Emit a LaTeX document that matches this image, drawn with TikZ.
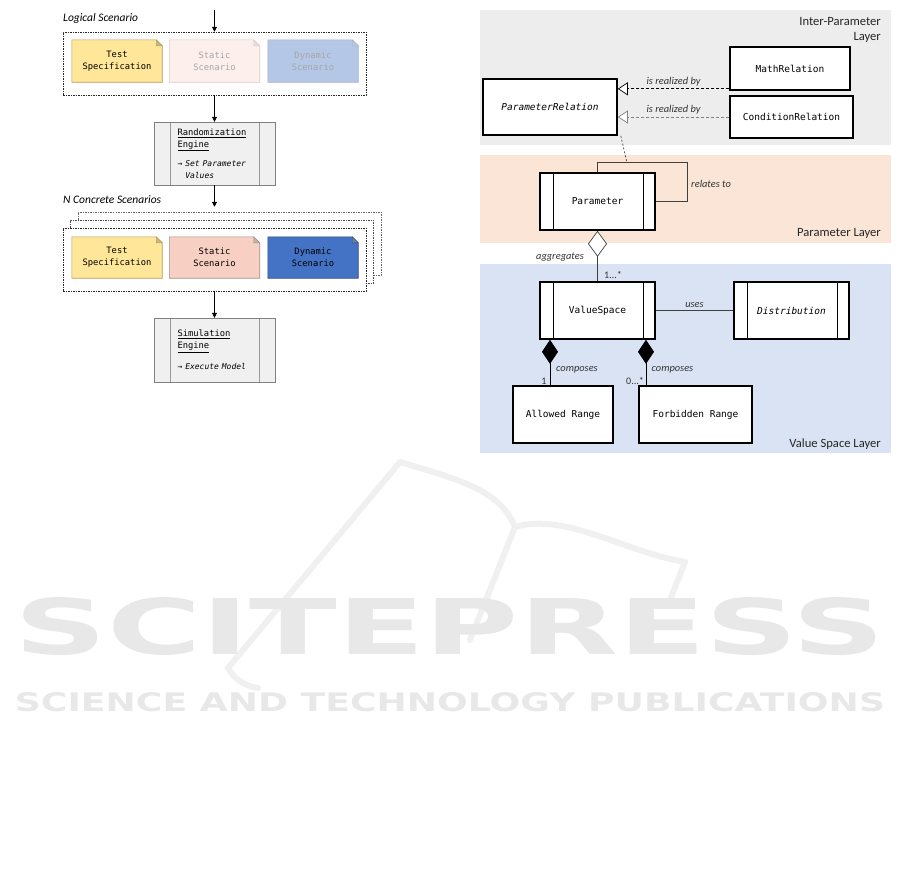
\documentclass[tikz,border=0pt]{standalone}
\usepackage{fontspec}
\setmainfont{Carlito}
\setmonofont{DejaVu Sans Mono}
\newfontfamily\wmfont{DejaVu Sans}
\usepackage{graphicx}
\usetikzlibrary{arrows.meta}
\usetikzlibrary{backgrounds}
\usetikzlibrary{calc}
\usetikzlibrary{positioning}

\definecolor{specyellow}{HTML}{FFE699}
\definecolor{specline}{HTML}{B39B55}
\definecolor{staticpink}{HTML}{F8CFC3}
\definecolor{staticline}{HTML}{A58E86}
\definecolor{staticfade}{HTML}{FCEFEC}
\definecolor{staticfadeline}{HTML}{DDCBC6}
\definecolor{dynblue}{HTML}{4472C4}
\definecolor{dynline}{HTML}{2F4A80}
\definecolor{dynfade}{HTML}{B4C7E7}
\definecolor{dynfadeline}{HTML}{A3B0C8}
\definecolor{interbg}{HTML}{EDEDED}
\definecolor{parbg}{HTML}{FBE5D6}
\definecolor{valbg}{HTML}{DAE3F3}

\newcommand\monoleft{\fontsize{8.8}{12}\ttfamily}
\newcommand\monosmall{\fontsize{8}{12}\selectfont}
\newcommand\monoright{\fontsize{9.5}{12}\ttfamily}
\newcommand\lblfont{\fontsize{10.4}{12}\selectfont\itshape}
\newcommand\layerfont{\fontsize{12.6}{14.5}\selectfont}

\begin{document}
\begin{tikzpicture}[x=1pt, y=-1pt,
	notebox/.style={minimum width=90pt, minimum height=42pt, inner sep=0pt, align=center, font=\monoleft},
	frame/.style={draw=black!85, dash pattern=on 1.5pt off 1pt, fill=white, line width=0.5pt, minimum width=303pt, minimum height=63pt, inner sep=0pt},
	flowarrow/.style={-{Triangle[length=5pt,width=5pt]}, line width=0.6pt},
	engine/.style={draw=gray, fill=gray!12, minimum width=121pt, minimum height=63pt, text width=74pt, align=left, inner sep=0pt, font=\monoleft,
		path picture={\draw[gray!80, line width=1pt]
			([xshift=16pt]path picture bounding box.north west) -- ([xshift=16pt]path picture bounding box.south west)
			([xshift=-16pt]path picture bounding box.north east) -- ([xshift=-16pt]path picture bounding box.south east);}},
	umlclass/.style={draw=black, line width=1.6pt, fill=white, minimum width=115pt, minimum height=57pt, inner sep=0pt, font=\monoright},
	activeclass/.style={umlclass,
		path picture={\draw[black, line width=0.8pt]
			([xshift=13pt]path picture bounding box.north west) -- ([xshift=13pt]path picture bounding box.south west)
			([xshift=-12pt]path picture bounding box.north east) -- ([xshift=-12pt]path picture bounding box.south east);}},
	realarrow/.style={dash pattern=on 3pt off 2pt, line width=0.7pt, -{Triangle[open,length=10pt,width=13pt,fill=white]}},
	umlline/.style={line width=0.7pt, draw=black!75},
	compose/.style={line width=0.7pt, draw=black, {Diamond[length=24pt,width=16pt,fill=black]}-},
	lbl/.style={font=\lblfont, text=black!80, inner sep=1pt},
	mult/.style={font=\fontsize{10}{12}\selectfont, text=black!80, inner sep=1pt},
	layerlbl/.style={font=\layerfont, text=black!85, inner sep=0pt, align=right, anchor=east},
	wmline/.style={draw=gray!12, line width=6pt, line cap=round}]

	\useasboundingbox (0,0) rectangle (901,887);

	% watermark
	\begin{scope}
		\draw[wmline] (400,462) .. controls (460,480) and (500,490) .. (515,527);
		\draw[wmline] (515,527) .. controls (565,512) and (625,552) .. (685,562);
		\draw[wmline] (685,562) -- (668,605);
		\draw[wmline] (400,462) -- (228,668) .. controls (235,680) and (245,686) .. (258,688);
		\draw[wmline] (515,527) -- (470,640);
		\node[text=gray!18, inner sep=0pt] (wmtitle) at (450,626.5) {\resizebox{870pt}{57pt}{\wmfont\bfseries SCITEPRESS}};
		\node[text=gray!18, inner sep=0pt] (wmsub) at (450,702.5) {\resizebox{870pt}{19pt}{\wmfont\bfseries SCIENCE AND TECHNOLOGY PUBLICATIONS}};
	\end{scope}

	% left: scenario flow
	\node[font=\fontsize{11.5}{13}\selectfont\itshape, anchor=west, inner sep=0pt] (lsclbl) at (63,18) {Logical Scenario};
	\node[font=\fontsize{11.5}{13}\selectfont\itshape, anchor=west, inner sep=0pt] (csclbl) at (63,200) {N Concrete Scenarios};

	\node[notebox] (ts1) at (117,61) {Test\\Specification};
	\node[notebox, text=black!35] (ss1) at (214.5,61) {Static\\Scenario};
	\node[notebox, text=black!35] (ds1) at (313,61) {Dynamic\\Scenario};

	\node[notebox, minimum height=41pt] (ts2) at (117,257.5) {Test\\Specification};
	\node[notebox, minimum height=41pt] (ss2) at (214.5,257.5) {Static\\Scenario};
	\node[notebox, minimum height=41pt] (ds2) at (313,257.5) {Dynamic\\Scenario};

	\begin{scope}[on background layer]
		\node[frame] (lsc) at (214.5,63.5) {};
		\node[frame, draw=black!60] (csc3) at (229.5,243.5) {};
		\node[frame, draw=black!70] (csc2) at (222,251.5) {};
		\node[frame] (csc1) at (214.5,259.5) {};
		\foreach \nm/\fc/\lc in {ts1/specyellow/specline, ss1/staticfade/staticfadeline, ds1/dynfade/dynfadeline,
				ts2/specyellow/specline, ss2/staticpink/staticline, ds2/dynblue/dynline}
		{
			\filldraw[fill=\fc, draw=\lc, line width=0.6pt] (\nm.north west) -- ([xshift=-6pt]\nm.north east)
				-- ([yshift=-6pt]\nm.north east) -- (\nm.south east) -- (\nm.south west) -- cycle;
			\filldraw[fill=\lc!70, draw=\lc, line width=0.4pt] ([xshift=-6pt]\nm.north east)
				-- ([xshift=-6pt,yshift=-6pt]\nm.north east) -- ([yshift=-6pt]\nm.north east) -- cycle;
		}
	\end{scope}

	\node[engine] (rand) at (214.5,153.5) {\underline{Randomization}\\\underline{Engine}\\[7pt]{\monosmall→ \textit{Set Parameter}}\\{\monosmall\phantom{→ }\textit{Values}}};
	\node[engine, minimum height=64pt] (sim) at (214.5,350) {\underline{Simulation}\\\underline{Engine}\\[9pt]{\monosmall→ \textit{Execute Model}}};

	\coordinate (start) at (214.5,10);
	\draw[flowarrow] (start) -- (lsc.north);
	\draw[flowarrow] (lsc.south) -- (rand.north);
	\draw[flowarrow] (rand.south) -- ([yshift=5pt]rand.south |- csc3.north);
	\draw[flowarrow] (csc1.south) -- (sim.north);

	% right: layers
	\fill[interbg] (480,10) rectangle (891,145);
	\fill[parbg] (480,155) rectangle (891,243);
	\fill[valbg] (480,264) rectangle (891,453);
	\node[layerlbl] (interlbl) at (881,30) {Inter-Parameter\\Layer};
	\node[layerlbl] (parlbl) at (881,233) {Parameter Layer};
	\node[layerlbl] (vallbl) at (881,444) {Value Space Layer};

	\node[umlclass, minimum width=120pt, minimum height=43pt] (mr) at (790,68.5) {MathRelation};
	\node[umlclass, minimum width=123pt, minimum height=42pt] (cr) at (791.5,117) {ConditionRelation};
	\node[umlclass, minimum width=134pt, minimum height=56pt] (pr) at (550,107) {\textit{ParameterRelation}};
	\node[activeclass] (par) at (597.5,201.5) {Parameter};
	\node[activeclass] (vs) at (597.5,310.5) {ValueSpace};
	\node[activeclass] (dist) at (791.5,310.5) {\textit{Distribution}};
	\node[umlclass, minimum width=100pt] (ar) at (563,414.5) {Allowed Range};
	\node[umlclass, minimum width=113pt] (fr) at (695.5,414.5) {Forbidden Range};

	\draw[realarrow] ([yshift=2pt]mr.south west) -- ([yshift=2pt]mr.south west -| pr.east)
		node[midway, above=1pt, lbl] (rl1) {is realized by};
	\draw[realarrow, draw=gray] (cr.west) -- (cr.west -| pr.east)
		node[midway, above=1pt, lbl] (rl2) {is realized by};

	\coordinate (lnk) at (627,163);
	\coordinate (loopr) at (687,201.5);
	\draw[umlline, dash pattern=on 2pt off 2pt] ([xshift=3pt]pr.south east) -- (lnk);
	\draw[umlline] (par.north) -- ++(0,-10) -| (loopr) -- (par.east);
	\node[lbl, anchor=west] (rellbl) at (690,184) {relates to};

	\draw[umlline, {Diamond[open,length=26pt,width=19pt,fill=white]}-] (par.south) -- (vs.north);
	\node[lbl] (agglbl) at (560,257) {aggregates};
	\node[mult] (aggmul) at (613,275) {1...*};

	\draw[umlline] (vs.east) -- (dist.west) node[midway, above=2pt, lbl] (useslbl) {uses};

	\draw[compose] ([xshift=-47.5pt]vs.south) -- ([xshift=-47.5pt]vs.south |- ar.north);
	\draw[compose] ([xshift=48.5pt]vs.south) -- ([xshift=48.5pt]vs.south |- fr.north);
	\node[lbl] (comp1) at (577,370) {composes};
	\node[lbl] (comp2) at (672.5,370) {composes};
	\node[mult] (mul1) at (544,381) {1};
	\node[mult] (mul2) at (635,381) {0...*};
\end{tikzpicture}
\end{document}
